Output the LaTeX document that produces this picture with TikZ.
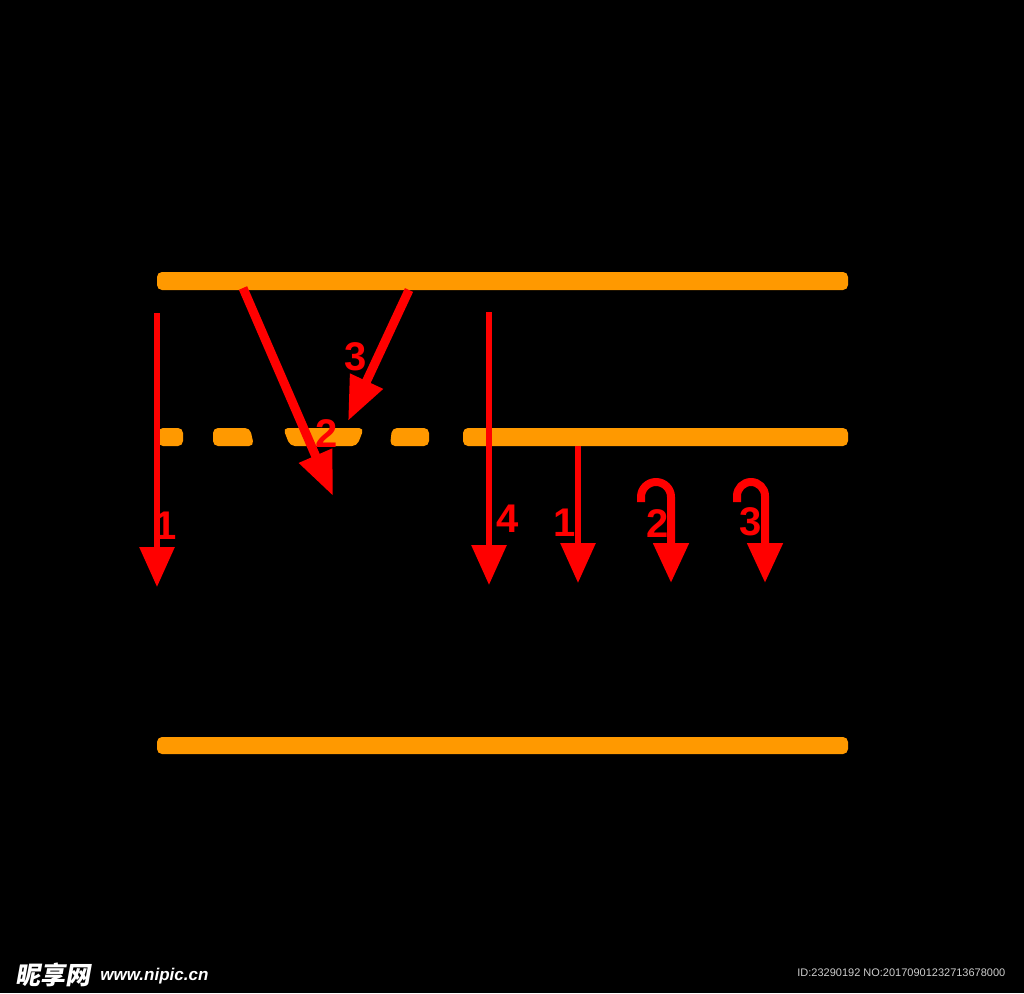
\documentclass[tikz,border=0pt]{standalone}
\usepackage{fontspec}
\setmainfont{Liberation Sans}
\newfontfamily\cjkfont[FakeSlant=0.18]{Noto Sans CJK SC}
\usetikzlibrary{arrows.meta}
\definecolor{railorange}{RGB}{255,153,0}
\definecolor{rayred}{RGB}{255,0,0}
\definecolor{idgray}{RGB}{205,205,205}
\tikzset{every picture/.style={line width=0.75pt}}
\tikzset{
  rail/.style={fill=railorange, rounded corners=5pt},
  ray/.style={draw=rayred, line width=6pt, line join=round, -{Triangle[length=40pt,width=34pt]}},
  hookray/.style={ray, line width=8pt},
  slantray/.style={ray, line width=9pt, -{Triangle[length=44pt,width=34pt]}},
  num/.style={text=rayred, font=\bfseries\fontsize{40}{40}\selectfont, inner sep=0pt},
  mark cn/.style={anchor=west, text=white, inner sep=0pt, font=\cjkfont\bfseries\fontsize{25}{25}\selectfont},
}

\begin{document}
\begin{tikzpicture}[x=1pt,y=1pt,yscale=-1,xscale=1]
    \useasboundingbox (0,0) rectangle (1024,993);
    \fill[black] (0,0) rectangle (1024,993);
    % rails
    \fill[rail] (157,272) rectangle (848,290);
    \fill[rail] (158,428) rectangle (183,446);
    \fill[rail] (213,428) -- (250,428) -- (254,446) -- (213,446) -- cycle;
    \fill[rail] (283,428) -- (364,428) -- (357,446) -- (290,446) -- cycle;
    \fill[rail] (392,428) -- (429,428) -- (429,446) -- (390,446) -- cycle;
    \fill[rail] (463,428) rectangle (848,446);
    \fill[rail] (157,737) rectangle (848,754);
    % ray ends
    \coordinate (a1s) at (157,313);
    \coordinate (a1e) at (157,587);
    \coordinate (a2s) at (243,288);
    \coordinate (a2e) at (333,496);
    \coordinate (a3s) at (409,290);
    \coordinate (a3e) at (348,421);
    \coordinate (a4s) at (489,312);
    \coordinate (a4e) at (489,585);
    \coordinate (b1s) at (578,446);
    \coordinate (b1e) at (578,583);
    \coordinate (b2s) at (641,502);
    \coordinate (b2e) at (671,583);
    \coordinate (b3s) at (737,502);
    \coordinate (b3e) at (765,583);
    % rays
    \draw[ray] (a1s) -- (a1e);
    \draw[slantray] (a2s) -- (a2e);
    \draw[slantray] (a3s) -- (a3e);
    \draw[ray] (a4s) -- (a4e);
    \draw[ray] (b1s) -- (b1e);
    \draw[hookray] (b2s) -- ++(0,-5) arc[start angle=180,end angle=360,radius=15] -- (b2e);
    \draw[hookray] (b3s) -- ++(0,-6) arc[start angle=180,end angle=360,radius=14] -- (b3e);
    % numbers
    \node[num] (n1a) at (166,526) {1};
    \node[num] (n2a) at (327,434) {2};
    \node[num] (n3a) at (356,357) {3};
    \node[num] (n4a) at (508,519) {4};
    \node[num] (n1b) at (565,523) {1};
    \node[num] (n2b) at (658,524) {2};
    \node[num] (n3b) at (751,522) {3};
    % watermark
    \node[mark cn] (wmcn) at (15,975) {昵享网};
    \node[anchor=west, text=white, inner sep=0pt, font=\bfseries\itshape\fontsize{17}{17}\selectfont] (wmurl) at (100,976) {www.nipic.cn};
    \node[anchor=west, text=idgray, inner sep=0pt, font=\fontsize{11}{11}\selectfont] (wmid) at (797,973) {ID:23290192 NO:20170901232713678000};
\end{tikzpicture}
\end{document}
